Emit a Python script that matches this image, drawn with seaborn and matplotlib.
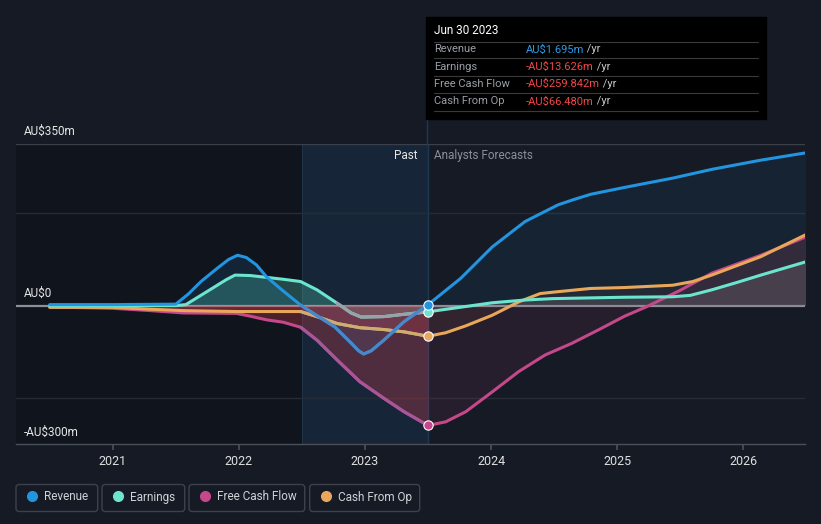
import numpy as np
import matplotlib.pyplot as plt
import seaborn as sns
from matplotlib.patches import Rectangle, FancyBboxPatch
from matplotlib.lines import Line2D

# ---- data (AU$ m) ----
rev_past_x = [2020.5, 2021.0, 2021.5, 2021.6, 2021.7, 2021.83, 2021.92, 2021.99, 2022.06, 2022.14,
              2022.22, 2022.35, 2022.49, 2022.62, 2022.76, 2022.89, 2022.95, 2022.99, 2023.05, 2023.15,
              2023.31, 2023.5]
rev_past_y = [2, 2, 3, 25, 52, 81, 100, 109, 104, 88, 62, 32, 1, -22, -46, -81, -98, -105, -98, -75, -35, 1.7]
rev_fc_x = [2023.5, 2023.76, 2024.01, 2024.27, 2024.4, 2024.53, 2024.66, 2024.79, 2025.06, 2025.44,
            2025.75, 2026.14, 2026.5]
rev_fc_y = [1.7, 59, 127, 182, 200, 218, 230, 241, 256, 276, 295, 315, 331]

earn_past_x = [2020.5, 2021.0, 2021.5, 2021.58, 2021.77, 2021.9, 2021.97, 2022.09, 2022.35, 2022.49,
               2022.62, 2022.78, 2022.89, 2022.97, 2023.15, 2023.31, 2023.5]
earn_past_y = [0, 0, 0, 2, 34, 56, 66, 65, 57, 52, 34, 5, -16, -25, -24, -19, -13.6]
earn_fc_x = [2023.5, 2024.01, 2024.27, 2024.49, 2025.06, 2025.44, 2025.58, 2025.75, 2025.95, 2026.14, 2026.5]
earn_fc_y = [-13.6, 6, 12, 15, 18, 19, 22, 34, 50, 66, 95]

fcf_past_x = [2020.5, 2021.0, 2021.3, 2021.56, 2021.98, 2022.09, 2022.22, 2022.35, 2022.49, 2022.62,
              2022.78, 2022.96, 2023.15, 2023.31, 2023.5]
fcf_past_y = [-3, -6, -11, -16, -17, -23, -31, -36, -47, -75, -118, -165, -201, -230, -259.8]
fcf_fc_x = [2023.5, 2023.64, 2023.8, 2024.01, 2024.22, 2024.43, 2024.64, 2024.85, 2025.06, 2025.23,
            2025.5, 2025.75, 2026.14, 2026.5]
fcf_fc_y = [-259.8, -252, -230, -187, -143, -107, -82, -53, -23, -3, 33, 70, 109, 149]

cfo_past_x = [2020.5, 2021.0, 2021.3, 2021.56, 2021.98, 2022.49, 2022.62, 2022.78, 2022.96, 2023.15, 2023.31, 2023.5]
cfo_past_y = [-4, -4, -8, -11, -13, -13, -24, -39, -48, -52, -57, -66.5]
cfo_fc_x = [2023.5, 2023.64, 2023.8, 2024.01, 2024.22, 2024.39, 2024.53, 2024.79, 2025.06, 2025.44,
            2025.6, 2025.75, 2026.14, 2026.5]
cfo_fc_y = [-66.5, -59, -44, -21, 8, 26, 30, 37, 39, 44, 52, 66, 106, 154]

names = ['Revenue', 'Earnings', 'Free Cash Flow', 'Cash From Op']
tooltip_values = ['AU$1.695m', '-AU$13.626m', '-AU$259.842m', '-AU$66.480m']
year_ticks = [2021, 2022, 2023, 2024, 2025, 2026]

BG = '#151a24'
C_REV, C_EARN, C_FCF, C_CFO = '#2394df', '#6ce5cf', '#c4488a', '#e9a75a'
MUTED = {C_REV: '#4a86c8', C_EARN: '#97a3a6', C_FCF: '#a8569a', C_CFO: '#cfac72'}

sns.set_theme(style='dark')
plt.rcParams['font.family'] = ['Roboto', 'DejaVu Sans']

W, H = 821, 524
fig = plt.figure(figsize=(W / 100, H / 100), dpi=100, facecolor=BG)
ax = fig.add_axes([16 / W, 1 - 444 / H, 789 / W, 300 / H])
ax.set_facecolor(BG)
ax.set_xlim(2020.233, 2026.49)
ax.set_ylim(-300, 350)


def fx(x):
    return x / W


def fy(y):
    return 1 - y / H


# background regions
ax.axvspan(2020.233, 2022.5, color='#07090d', alpha=0.3, lw=0, zorder=0)
ax.axvspan(2022.5, 2023.5, color='#1b5282', alpha=0.22, lw=0, zorder=0)
ax.axvline(2022.5, color='#1e3346', lw=0.8, zorder=0.5)
ax.axvline(2023.5, color='#1d3a55', lw=1, zorder=0.5)
fig.add_artist(Line2D([fx(427), fx(427)], [fy(144), fy(119)], color='#1d3a55', lw=1))

# grid
for g in [-200, 200]:
    ax.axhline(g, color='#262c36', lw=1, zorder=0.6)
ax.axhline(350, color='#3a3f4a', lw=1, zorder=0.6)
ax.axhline(0, color='#8c8f96', lw=1.6, zorder=0.9)

series = {
    'Revenue': (rev_past_x, rev_past_y, rev_fc_x, rev_fc_y, C_REV, 2022.49),
    'Earnings': (earn_past_x, earn_past_y, earn_fc_x, earn_fc_y, C_EARN, 2022.78),
    'Free Cash Flow': (fcf_past_x, fcf_past_y, fcf_fc_x, fcf_fc_y, C_FCF, 2022.49),
    'Cash From Op': (cfo_past_x, cfo_past_y, cfo_fc_x, cfo_fc_y, C_CFO, 2022.49),
}

# fills
fill_cfg = {'Revenue': ('#2394df', 0.13, '#2394df', 0.08),
            'Earnings': ('#58d6bf', 0.28, '#8a8f96', 0.22),
            'Free Cash Flow': ('#d8404f', 0.3, '#c4487a', 0.1),
            'Cash From Op': ('#d8404f', 0.22, '#d07a60', 0.07)}
for n, (px, py, fxs, fys, c, cut) in series.items():
    pc, pa, fc, fa = fill_cfg[n]
    ax.fill_between(px, py, 0, color=pc, alpha=pa, lw=0, zorder=1)
    ax.fill_between(fxs, fys, 0, color=fc, alpha=fa, lw=0, zorder=1)

# lines, drawn so that revenue sits on top
for n in ['Free Cash Flow', 'Cash From Op', 'Earnings', 'Revenue']:
    px, py, fxs, fys, c, cut = series[n]
    sns.lineplot(x=px, y=py, ax=ax, color=c, lw=2.2, sort=False, estimator=None, legend=False)
    pxa, pya = np.array(px), np.array(py)
    m = pxa >= cut
    sns.lineplot(x=pxa[m], y=pya[m], ax=ax, color=MUTED[c], lw=2.2, sort=False, estimator=None,
                 legend=False)
    sns.lineplot(x=fxs, y=fys, ax=ax, color=c, lw=2.2, sort=False, estimator=None, legend=False)

for n in ['Free Cash Flow', 'Cash From Op', 'Earnings', 'Revenue']:
    px, py, fxs, fys, c, cut = series[n]
    ax.scatter([px[-1]], [py[-1]], s=45, color=c, edgecolor='white', linewidth=0.8, zorder=10)

# axes styling
for s in ['top', 'right', 'left']:
    ax.spines[s].set_visible(False)
ax.spines['bottom'].set_color('#4a4f5a')
ax.spines['bottom'].set_linewidth(1)
ax.set_yticks([])
ax.set_xticks(year_ticks)
ax.set_xticklabels([str(y) for y in year_ticks], color='#e0e0e0', fontsize=9)
ax.tick_params(axis='x', length=4, color='#4a4f5a', pad=4, bottom=True)
ax.grid(False)
ax.set_xlabel('')
ax.set_ylabel('')

# y labels
fig.text(fx(24), fy(131), 'AU$350m', color='#e6e6e6', fontsize=8.5, va='center')
fig.text(fx(24), fy(293), 'AU$0', color='#e6e6e6', fontsize=8.5, va='center')
fig.text(fx(24), fy(432), '-AU$300m', color='#e6e6e6', fontsize=8.5, va='center')

fig.text(fx(417), fy(156), 'Past', color='#e6e6e6', fontsize=8.5, va='center', ha='right')
fig.text(fx(434), fy(156), 'Analysts Forecasts', color='#8a9099', fontsize=8.5, va='center')

# tooltip
fig.add_artist(Rectangle((fx(426), fy(119)), fx(340), 102 / H, color='#000000', zorder=5))
fig.text(fx(434), fy(31), 'Jun 30 2023', color='#ffffff', fontsize=8.5, va='center', zorder=6)
for yy in [41.5, 58, 75.5, 93, 110.5]:
    fig.add_artist(Line2D([fx(434), fx(758)], [fy(yy), fy(yy)], color='#3a3a3a', lw=0.8, zorder=6))
val_colors = ['#2d9ae6', '#f04848', '#f04848', '#f04848']
for i, (n, v, vc) in enumerate(zip(names, tooltip_values, val_colors)):
    yy = 49.5 + i * 17.3
    fig.text(fx(434), fy(yy), n, color='#9a9fa6', fontsize=8, va='center', zorder=6)
    t = fig.text(fx(526), fy(yy), v, color=vc, fontsize=8, va='center', zorder=6)
    fig.add_artist(plt.Annotation(' /yr', xy=(1, 0.5), xycoords=t, va='center', ha='left',
                                  color='#c8c8c8', fontsize=8, zorder=6))

# legend boxes
boxes = [(16, 97.7), (102, 184.7), (189, 304.7), (309.7, 419.7)]
for (x0, x1), n in zip(boxes, names):
    c = series[n][4]
    fig.add_artist(FancyBboxPatch((x0, H - 511.5), x1 - x0, 27, boxstyle='round,pad=0,rounding_size=3',
                                  transform=None, facecolor='none', edgecolor='#3c414c', lw=1))
    fig.add_artist(Line2D([fx(x0 + 16)], [fy(496)], marker='o', markersize=7, color=c, lw=0))
    fig.text(fx(x0 + 28), fy(497), n, color='#cfd2d6', fontsize=8.5, va='center')

fig.savefig('out.png', dpi=100, facecolor=BG)
